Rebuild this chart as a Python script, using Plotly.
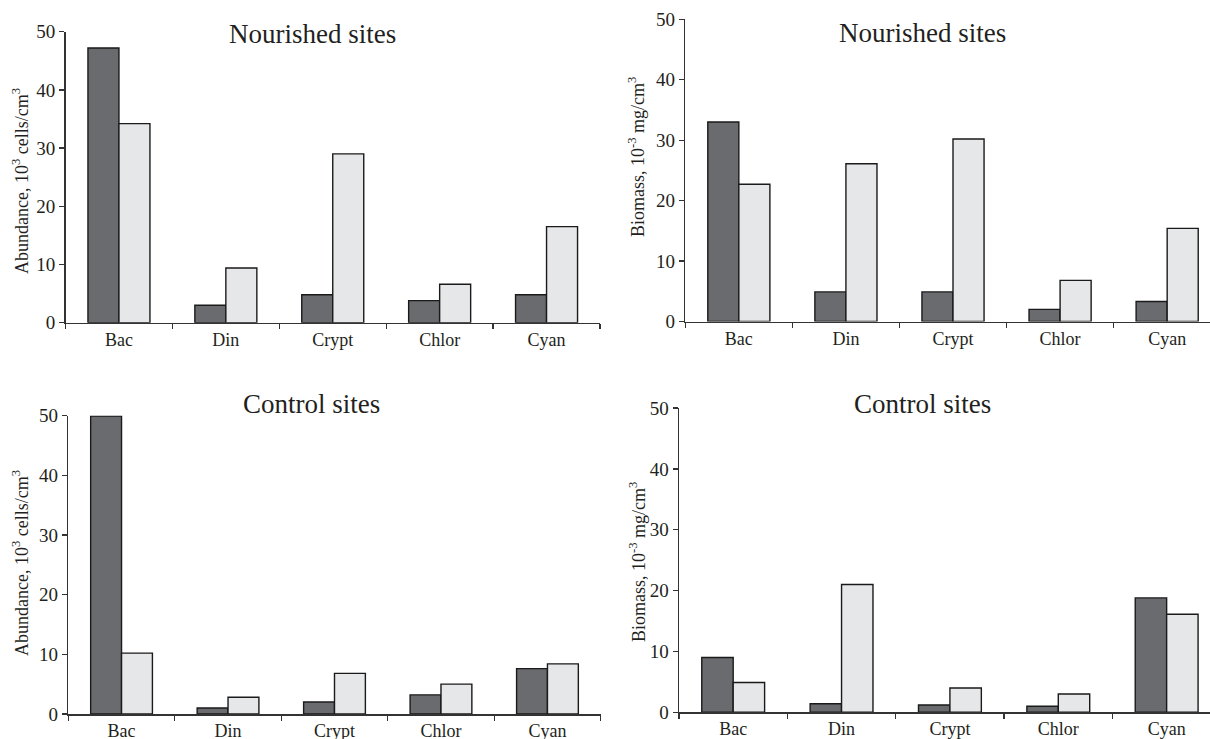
import plotly.graph_objects as go

categories = ["Bac", "Din", "Crypt", "Chlor", "Cyan"]

# Nourished sites
abund_nour_dark = [47.2, 3.0, 4.8, 3.8, 4.8]
abund_nour_light = [34.2, 9.4, 29.0, 6.6, 16.5]
biom_nour_dark = [33.0, 4.9, 4.9, 2.0, 3.3]
biom_nour_light = [22.7, 26.1, 30.2, 6.8, 15.4]

# Control sites
abund_ctrl_dark = [49.9, 1.0, 2.0, 3.2, 7.6]
abund_ctrl_light = [10.2, 2.8, 6.8, 5.0, 8.4]
biom_ctrl_dark = [9.0, 1.4, 1.2, 1.0, 18.8]
biom_ctrl_light = [4.9, 21.0, 4.0, 3.0, 16.1]

y_ticks = [0, 10, 20, 30, 40, 50]

W, H = 1210, 739
DARK = "#6a6b6f"
LIGHT = "#e6e7e9"
FONT = "Liberation Serif"
TXT = "#231f20"

fig = go.Figure()

panels = [
    # (dark, light, xaxis id, yaxis id, x domain px, y px (zero, fifty), xrange)
    (abund_nour_dark, abund_nour_light, "x", "y", (65.5, 600), (322.7, 31.7), [-0.5, 4.5]),
    (biom_nour_dark, biom_nour_light, "x2", "y2", (685.3, 1210), (321.5, 19.3), [-0.5, 4.4]),
    (abund_ctrl_dark, abund_ctrl_light, "x3", "y3", (68.3, 600.7), (714.0, 415.5), [-0.5, 4.5]),
    (biom_ctrl_dark, biom_ctrl_light, "x4", "y4", (679.0, 1210), (712.3, 408.0), [-0.5, 4.4]),
]

layout_axes = {}
for i, (dk, lt, xa, ya, xd, yd, xr) in enumerate(panels):
    for vals, col in ((dk, DARK), (lt, LIGHT)):
        fig.add_trace(go.Bar(
            x=categories, y=vals, xaxis=xa, yaxis=ya,
            marker=dict(color=col, line=dict(color="#1a1a1a", width=1.4)),
            showlegend=False,
        ))
    n = "" if i == 0 else str(i + 1)
    layout_axes["xaxis" + n] = dict(
        domain=[xd[0] / W, xd[1] / W],
        anchor="y" + n,
        type="category",
        range=xr,
        tickson="boundaries",
        ticks="outside", ticklen=5, tickwidth=1.3, tickcolor="#333",
        showline=True, linecolor="#333", linewidth=1.5,
        showgrid=False, zeroline=False,
        tickfont=dict(family=FONT, size=18, color=TXT),
        automargin=False,
        fixedrange=True,
    )
    layout_axes["yaxis" + n] = dict(
        domain=[(H - yd[0]) / H, (H - yd[1]) / H],
        anchor="x" + n,
        range=[0, 50],
        tickvals=y_ticks,
        ticks="outside", ticklen=5, tickwidth=1.3, tickcolor="#333",
        showline=True, linecolor="#333", linewidth=1.5,
        showgrid=False, zeroline=False,
        tickfont=dict(family=FONT, size=19, color=TXT),
        automargin=False,
        fixedrange=True,
    )

annotations = []
titles = [
    ("Nourished sites", 312.5, 34),
    ("Nourished sites", 923, 33),
    ("Control sites", 311, 404),
    ("Control sites", 923, 404),
]
for t, x, y in titles:
    annotations.append(dict(
        text=t, x=x / W, y=1 - y / H, xref="paper", yref="paper",
        xanchor="center", yanchor="middle", showarrow=False,
        font=dict(family=FONT, size=27, color=TXT),
    ))

ytitles = [
    ("Abundance, 10<sup>3</sup> cells/cm<sup>3</sup>", 20, 181),
    ("Biomass, 10<sup>-3</sup> mg/cm<sup>3</sup>", 636, 157),
    ("Abundance, 10<sup>3</sup> cells/cm<sup>3</sup>", 20, 563),
    ("Biomass, 10<sup>-3</sup> mg/cm<sup>3</sup>", 637, 562),
]
for t, x, y in ytitles:
    annotations.append(dict(
        text=t, x=x / W, y=1 - y / H, xref="paper", yref="paper",
        xanchor="center", yanchor="middle", showarrow=False, textangle=-90,
        font=dict(family=FONT, size=18, color=TXT),
    ))

fig.update_layout(
    width=W, height=H,
    margin=dict(l=0, r=0, t=0, b=0, autoexpand=False),
    paper_bgcolor="white", plot_bgcolor="white",
    barmode="group", bargap=0.42, bargroupgap=0,
    showlegend=False,
    hovermode=False,
    annotations=annotations,
    **layout_axes,
)

fig.write_html(
    "out.html",
    config={"displayModeBar": False, "staticPlot": True},
    post_script="document.body.style.margin='0';document.body.style.overflow='hidden';",
)
